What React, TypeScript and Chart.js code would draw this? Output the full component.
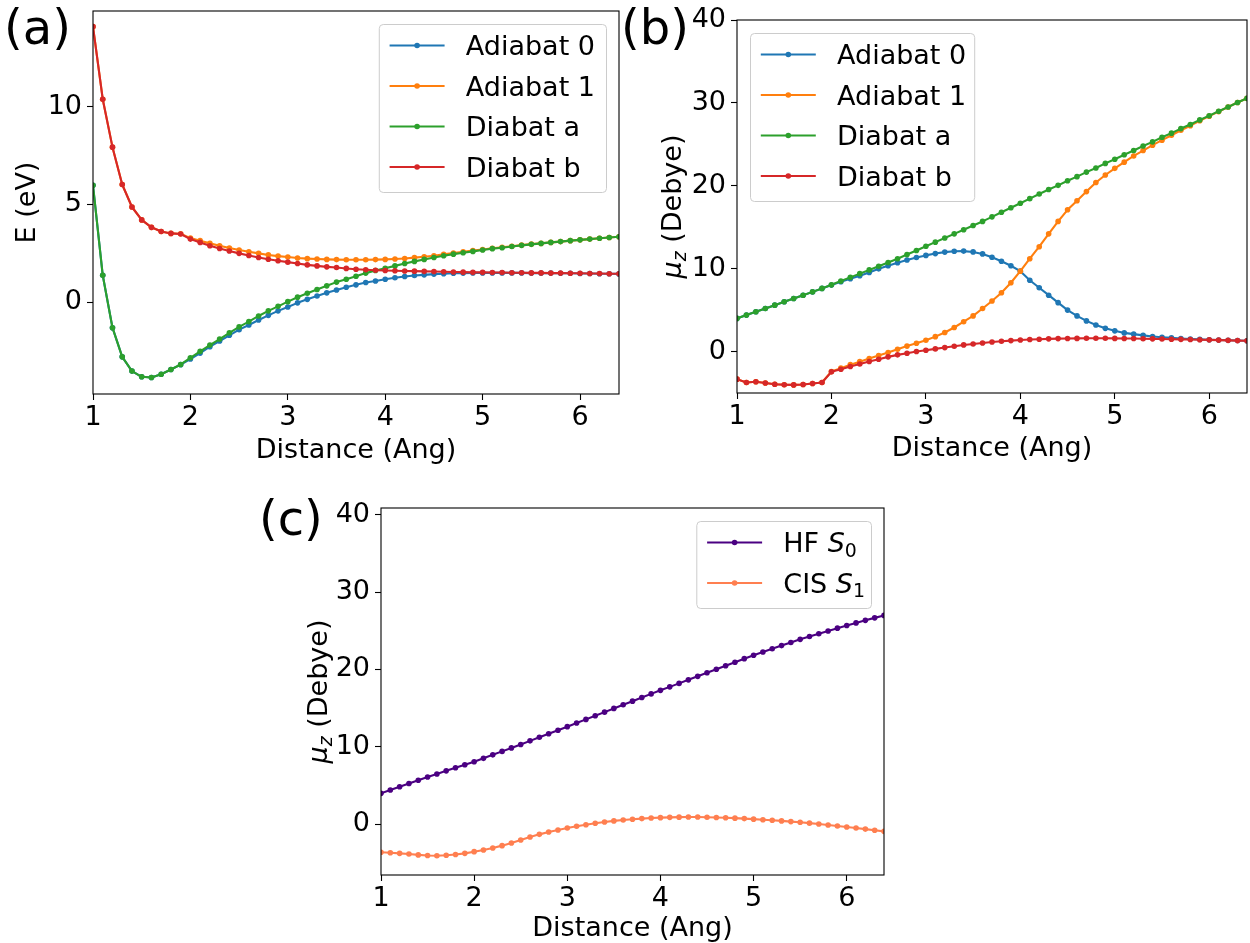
import React, { useEffect, useRef } from "react";
import { Chart, registerables } from "chart.js";

Chart.register(...registerables);

const FONT = "'DejaVu Sans', 'Liberation Sans', sans-serif";
const FS = 27;

// ---------------- data ----------------
const distance = [
  1.0, 1.1, 1.2, 1.3, 1.4, 1.5, 1.6, 1.7, 1.8, 1.9,
  2.0, 2.1, 2.2, 2.3, 2.4, 2.5, 2.6, 2.7, 2.8, 2.9,
  3.0, 3.1, 3.2, 3.3, 3.4, 3.5, 3.6, 3.7, 3.8, 3.9,
  4.0, 4.1, 4.2, 4.3, 4.4, 4.5, 4.6, 4.7, 4.8, 4.9,
  5.0, 5.1, 5.2, 5.3, 5.4, 5.5, 5.6, 5.7, 5.8, 5.9,
  6.0, 6.1, 6.2, 6.3, 6.4,
];

// (a) energies, eV
const energyAdiabat0 = [
  5.98, 1.38, -1.30, -2.79, -3.52, -3.81, -3.85, -3.68, -3.44, -3.19,
  -2.90, -2.60, -2.27, -1.98, -1.69, -1.40, -1.16, -0.91, -0.67, -0.44,
  -0.24, -0.03, 0.15, 0.32, 0.48, 0.63, 0.77, 0.89, 1.01, 1.09,
  1.18, 1.25, 1.32, 1.37, 1.40, 1.44, 1.46, 1.48, 1.49, 1.50,
  1.50, 1.50, 1.50, 1.50, 1.50, 1.49, 1.49, 1.49, 1.48, 1.48,
  1.47, 1.47, 1.46, 1.46, 1.45,
];
const energyAdiabat1 = [
  14.09, 10.38, 7.93, 6.02, 4.87, 4.21, 3.83, 3.62, 3.52, 3.50,
  3.28, 3.15, 3.01, 2.89, 2.77, 2.67, 2.58, 2.50, 2.42, 2.36,
  2.31, 2.26, 2.23, 2.21, 2.19, 2.18, 2.17, 2.17, 2.17, 2.18,
  2.19, 2.21, 2.24, 2.28, 2.33, 2.38, 2.45, 2.52, 2.58, 2.64,
  2.70, 2.76, 2.81, 2.86, 2.92, 2.97, 3.01, 3.06, 3.10, 3.15,
  3.19, 3.23, 3.27, 3.31, 3.35,
];
const energyDiabatA = [
  5.98, 1.38, -1.30, -2.79, -3.52, -3.81, -3.85, -3.68, -3.44, -3.18,
  -2.84, -2.51, -2.19, -1.88, -1.56, -1.26, -0.99, -0.70, -0.44, -0.21,
  0.03, 0.26, 0.46, 0.65, 0.84, 1.03, 1.18, 1.33, 1.49, 1.62,
  1.74, 1.86, 1.98, 2.09, 2.19, 2.29, 2.38, 2.46, 2.53, 2.60,
  2.67, 2.74, 2.79, 2.85, 2.91, 2.96, 3.01, 3.06, 3.10, 3.15,
  3.19, 3.23, 3.27, 3.31, 3.35,
];
const energyDiabatB = [
  14.09, 10.38, 7.93, 6.02, 4.87, 4.21, 3.83, 3.62, 3.52, 3.49,
  3.23, 3.06, 2.89, 2.75, 2.62, 2.50, 2.39, 2.29, 2.20, 2.12,
  2.05, 1.98, 1.91, 1.86, 1.81, 1.78, 1.73, 1.69, 1.66, 1.64,
  1.62, 1.61, 1.60, 1.59, 1.58, 1.57, 1.56, 1.55, 1.54, 1.53,
  1.53, 1.52, 1.52, 1.51, 1.51, 1.50, 1.50, 1.49, 1.49, 1.48,
  1.48, 1.47, 1.47, 1.46, 1.46,
];

// (b) dipoles, Debye
const dipoleAdiabat0 = [
  4.00, 4.40, 4.80, 5.20, 5.60, 6.00, 6.40, 6.80, 7.20, 7.62,
  8.02, 8.42, 8.78, 9.15, 9.55, 9.98, 10.35, 10.72, 11.05, 11.35,
  11.60, 11.82, 12.00, 12.10, 12.12, 12.02, 11.78, 11.38, 10.90, 10.35,
  9.70, 8.60, 7.70, 6.80, 5.90, 5.00, 4.30, 3.70, 3.20, 2.80,
  2.50, 2.25, 2.10, 1.95, 1.82, 1.73, 1.65, 1.58, 1.52, 1.47,
  1.43, 1.40, 1.37, 1.33, 1.30,
];
const dipoleAdiabat1 = [
  -3.33, -3.73, -3.65, -3.80, -3.94, -4.00, -4.02, -3.98, -3.86, -3.73,
  -2.40, -2.00, -1.58, -1.22, -0.85, -0.48, -0.12, 0.28, 0.66, 1.00,
  1.37, 1.80, 2.30, 2.90, 3.60, 4.30, 5.20, 6.10, 7.10, 8.30,
  9.70, 11.20, 12.65, 14.20, 15.70, 17.10, 18.20, 19.30, 20.40, 21.30,
  22.10, 22.85, 23.60, 24.25, 24.90, 25.50, 26.10, 26.70, 27.25, 27.85,
  28.40, 28.95, 29.50, 30.05, 30.55,
];
const dipoleDiabatA = [
  4.00, 4.40, 4.80, 5.20, 5.60, 6.00, 6.40, 6.80, 7.20, 7.62,
  8.05, 8.50, 8.95, 9.40, 9.85, 10.30, 10.75, 11.20, 11.70, 12.20,
  12.70, 13.20, 13.70, 14.20, 14.70, 15.20, 15.70, 16.25, 16.80, 17.35,
  17.90, 18.45, 19.00, 19.55, 20.05, 20.60, 21.10, 21.65, 22.15, 22.70,
  23.20, 23.75, 24.25, 24.80, 25.30, 25.85, 26.35, 26.90, 27.40, 27.95,
  28.45, 29.00, 29.50, 30.05, 30.55,
];
const dipoleDiabatB = [
  -3.33, -3.73, -3.65, -3.80, -3.94, -4.00, -4.02, -3.98, -3.86, -3.73,
  -2.45, -2.13, -1.80, -1.50, -1.20, -0.92, -0.64, -0.40, -0.20, 0.00,
  0.16, 0.32, 0.48, 0.64, 0.80, 0.92, 1.04, 1.16, 1.24, 1.32,
  1.40, 1.45, 1.49, 1.53, 1.56, 1.58, 1.59, 1.60, 1.60, 1.60,
  1.59, 1.58, 1.57, 1.55, 1.53, 1.51, 1.49, 1.47, 1.45, 1.43,
  1.41, 1.38, 1.35, 1.32, 1.30,
];

// (c) dipoles, Debye
const dipoleHfS0 = [
  3.97, 4.40, 4.82, 5.24, 5.66, 6.08, 6.48, 6.88, 7.28, 7.67,
  8.06, 8.50, 8.95, 9.40, 9.85, 10.30, 10.76, 11.22, 11.68, 12.14,
  12.60, 13.07, 13.54, 14.01, 14.48, 14.96, 15.43, 15.90, 16.37, 16.84,
  17.30, 17.75, 18.20, 18.66, 19.11, 19.57, 20.03, 20.48, 20.94, 21.40,
  21.85, 22.27, 22.68, 23.09, 23.50, 23.90, 24.27, 24.63, 24.99, 25.35,
  25.70, 26.03, 26.36, 26.68, 27.00,
];
const dipoleCisS1 = [
  -3.66, -3.72, -3.80, -3.88, -4.00, -4.08, -4.10, -4.04, -3.94, -3.80,
  -3.58, -3.36, -3.10, -2.80, -2.46, -2.07, -1.68, -1.34, -1.03, -0.78,
  -0.52, -0.30, -0.09, 0.09, 0.26, 0.40, 0.52, 0.62, 0.70, 0.77,
  0.82, 0.86, 0.89, 0.90, 0.90, 0.88, 0.85, 0.81, 0.76, 0.70,
  0.63, 0.56, 0.48, 0.40, 0.31, 0.22, 0.11, 0.00, -0.12, -0.25,
  -0.38, -0.52, -0.66, -0.80, -0.95,
];

const xTicks = [1, 2, 3, 4, 5, 6];
const energyTicks = [0, 5, 10];
const dipoleTicks = [0, 10, 20, 30, 40];

// ---------------- helpers ----------------
type Part = { text: string; italic?: boolean; sub?: boolean };

function partFont(p: Part, size: number) {
  const s = p.sub ? size * 0.7 : size;
  return `${p.italic ? "italic " : ""}${s}px ${FONT}`;
}
function measureParts(ctx: CanvasRenderingContext2D, parts: Part[], size: number) {
  let w = 0;
  for (const p of parts) {
    ctx.font = partFont(p, size);
    w += ctx.measureText(p.text).width;
  }
  return w;
}
function drawParts(ctx: CanvasRenderingContext2D, parts: Part[], x: number, baseline: number, size: number) {
  ctx.textBaseline = "alphabetic";
  ctx.textAlign = "left";
  let cx = x;
  for (const p of parts) {
    ctx.font = partFont(p, size);
    ctx.fillText(p.text, cx, p.sub ? baseline + size * 0.17 : baseline);
    cx += ctx.measureText(p.text).width;
  }
}
function roundRect(ctx: CanvasRenderingContext2D, x: number, y: number, w: number, h: number, r: number) {
  ctx.beginPath();
  ctx.moveTo(x + r, y);
  ctx.lineTo(x + w - r, y);
  ctx.arcTo(x + w, y, x + w, y + r, r);
  ctx.lineTo(x + w, y + h - r);
  ctx.arcTo(x + w, y + h, x + w - r, y + h, r);
  ctx.lineTo(x + r, y + h);
  ctx.arcTo(x, y + h, x, y + h - r, r);
  ctx.lineTo(x, y + r);
  ctx.arcTo(x, y, x + r, y, r);
  ctx.closePath();
}

type Series = { label: string; parts: Part[]; values: number[]; color: string };
type PanelSpec = {
  left: number; top: number; width: number; height: number;
  pad: { left: number; top: number; right: number; bottom: number };
  yAxisWidth: number; xAxisHeight: number;
  yMin: number; yMax: number; yTicks: number[];
  yTitle: string | null; yTitleParts: Part[] | null; yTitleCenterX: number;
  xTitlePad: number;
  legendAlign: "left" | "right";
  legendExtra: number;
  series: Series[];
};

const TAB_BLUE = "#1f77b4";
const TAB_ORANGE = "#ff7f0e";
const TAB_GREEN = "#2ca02c";
const TAB_RED = "#d62728";

const muTitle: Part[] = [
  { text: "\u03bc", italic: true },
  { text: "z", italic: true, sub: true },
  { text: " (Debye)" },
];

const panels: PanelSpec[] = [
  {
    left: 0, top: 0, width: 625, height: 470,
    pad: { left: 0, top: 11, right: 6, bottom: 0 },
    yAxisWidth: 93, xAxisHeight: 76,
    yMin: -4.69, yMax: 14.89, yTicks: energyTicks,
    yTitle: "E (eV)", yTitleParts: null, yTitleCenterX: 28,
    xTitlePad: 5.5,
    legendAlign: "right",
    legendExtra: 11,
    series: [
      { label: "Adiabat 0", parts: [{ text: "Adiabat 0" }], values: energyAdiabat0, color: TAB_BLUE },
      { label: "Adiabat 1", parts: [{ text: "Adiabat 1" }], values: energyAdiabat1, color: TAB_ORANGE },
      { label: "Diabat a", parts: [{ text: "Diabat a" }], values: energyDiabatA, color: TAB_GREEN },
      { label: "Diabat b", parts: [{ text: "Diabat b" }], values: energyDiabatB, color: TAB_RED },
    ],
  },
  {
    left: 625, top: 0, width: 625, height: 470,
    pad: { left: 0, top: 20, right: 3, bottom: 0 },
    yAxisWidth: 112, xAxisHeight: 77,
    yMin: -5, yMax: 40, yTicks: dipoleTicks,
    yTitle: null, yTitleParts: muTitle, yTitleCenterX: 48,
    xTitlePad: 7.5,
    legendAlign: "left",
    legendExtra: 8,
    series: [
      { label: "Adiabat 0", parts: [{ text: "Adiabat 0" }], values: dipoleAdiabat0, color: TAB_BLUE },
      { label: "Adiabat 1", parts: [{ text: "Adiabat 1" }], values: dipoleAdiabat1, color: TAB_ORANGE },
      { label: "Diabat a", parts: [{ text: "Diabat a" }], values: dipoleDiabatA, color: TAB_GREEN },
      { label: "Diabat b", parts: [{ text: "Diabat b" }], values: dipoleDiabatB, color: TAB_RED },
    ],
  },
  {
    left: 250, top: 480, width: 650, height: 463,
    pad: { left: 0, top: 28, right: 16, bottom: 0 },
    yAxisWidth: 131, xAxisHeight: 68,
    yMin: -6.6, yMax: 40.9, yTicks: dipoleTicks,
    yTitle: null, yTitleParts: muTitle, yTitleCenterX: 69,
    xTitlePad: 0.5,
    legendAlign: "right",
    legendExtra: 6,
    series: [
      { label: "HF S0", parts: [{ text: "HF " }, { text: "S", italic: true }, { text: "0", sub: true }], values: dipoleHfS0, color: "#4b0082" },
      { label: "CIS S1", parts: [{ text: "CIS " }, { text: "S", italic: true }, { text: "1", sub: true }], values: dipoleCisS1, color: "#ff7f50" },
    ],
  },
];

function zeroPad(s: any) {
  s.paddingLeft = 0;
  s.paddingRight = 0;
  s.paddingTop = 0;
  s.paddingBottom = 0;
}

function makeConfig(spec: PanelSpec): any {
  const n = spec.series.length;
  const decor = {
    id: "decor",
    afterDatasetsDraw(chart: any) {
      const { ctx, chartArea: a } = chart;
      ctx.save();
      ctx.strokeStyle = "#000";
      ctx.lineWidth = 1.1;
      ctx.strokeRect(a.left, a.top, a.right - a.left, a.bottom - a.top);
      ctx.restore();
    },
    afterDraw(chart: any) {
      const { ctx, chartArea: a } = chart;
      ctx.save();
      // legend
      const widths = spec.series.map((s) => measureParts(ctx, s.parts, FS));
      const textW = Math.max(...widths);
      const w = 87 + textW + spec.legendExtra;
      const h = n * 40.5 + 6;
      const x0 = spec.legendAlign === "right" ? a.right - 13 - w : a.left + 13;
      const y0 = a.top + 13;
      roundRect(ctx, x0 + 0.5, y0 + 0.5, w, h, 4);
      ctx.fillStyle = "rgba(255,255,255,0.8)";
      ctx.fill();
      ctx.strokeStyle = "#cccccc";
      ctx.lineWidth = 1;
      ctx.stroke();
      spec.series.forEach((s, i) => {
        const cy = y0 + 21.5 + i * 40.5;
        ctx.strokeStyle = s.color;
        ctx.lineWidth = 2.1;
        ctx.beginPath();
        ctx.moveTo(x0 + 10.8, cy);
        ctx.lineTo(x0 + 10.8 + 55, cy);
        ctx.stroke();
        ctx.fillStyle = s.color;
        ctx.beginPath();
        ctx.arc(x0 + 10.8 + 27.5, cy, 2.8, 0, Math.PI * 2);
        ctx.fill();
        ctx.fillStyle = "#000";
        drawParts(ctx, s.parts, x0 + 87, cy + 0.365 * FS, FS);
      });
      // custom y title
      if (spec.yTitleParts) {
        const tw = measureParts(ctx, spec.yTitleParts, FS);
        const cy = (a.top + a.bottom) / 2;
        ctx.translate(spec.yTitleCenterX + 0.3 * FS, cy);
        ctx.rotate(-Math.PI / 2);
        ctx.fillStyle = "#000";
        drawParts(ctx, spec.yTitleParts, -tw / 2, 0, FS);
      }
      ctx.restore();
    },
  };

  return {
    type: "line",
    data: {
      datasets: spec.series.map((s, i) => ({
        label: s.label,
        data: distance.map((x, j) => ({ x, y: s.values[j] })),
        borderColor: s.color,
        backgroundColor: s.color,
        pointBackgroundColor: s.color,
        pointBorderColor: s.color,
        borderWidth: 2.1,
        pointRadius: 2.8,
        pointHoverRadius: 2.8,
        pointBorderWidth: 0,
        borderJoinStyle: "round",
        tension: 0,
        fill: false,
        clip: 0,
        order: n - i,
      })),
    },
    options: {
      animation: false,
      responsive: false,
      maintainAspectRatio: false,
      devicePixelRatio: 1,
      events: [],
      layout: { padding: spec.pad },
      plugins: {
        legend: { display: false },
        tooltip: { enabled: false },
        title: { display: false },
      },
      scales: {
        x: {
          type: "linear",
          min: 1,
          max: 6.4,
          afterBuildTicks: (ax: any) => {
            ax.ticks = xTicks.map((v) => ({ value: v }));
          },
          afterFit: (s: any) => {
            s.height = spec.xAxisHeight;
            zeroPad(s);
          },
          border: { display: false },
          grid: {
            display: true,
            drawOnChartArea: false,
            drawTicks: true,
            tickLength: 6,
            tickWidth: 1.1,
            tickColor: "#000",
            color: "#000",
          },
          ticks: {
            autoSkip: false,
            maxRotation: 0,
            padding: 4,
            color: "#000",
            font: { family: FONT, size: FS, lineHeight: 1 },
          },
          title: {
            display: true,
            text: "Distance (Ang)",
            color: "#000",
            font: { family: FONT, size: FS, lineHeight: 1 },
            padding: { top: 0, bottom: spec.xTitlePad },
          },
        },
        y: {
          type: "linear",
          min: spec.yMin,
          max: spec.yMax,
          afterBuildTicks: (ax: any) => {
            ax.ticks = spec.yTicks.map((v) => ({ value: v }));
          },
          afterFit: (s: any) => {
            s.width = spec.yAxisWidth;
            zeroPad(s);
          },
          border: { display: false },
          grid: {
            display: true,
            drawOnChartArea: false,
            drawTicks: true,
            tickLength: 6,
            tickWidth: 1.1,
            tickColor: "#000",
            color: "#000",
          },
          ticks: {
            autoSkip: false,
            padding: 5,
            color: "#000",
            font: { family: FONT, size: FS, lineHeight: 1 },
          },
          title: {
            display: !!spec.yTitle,
            text: spec.yTitle || "",
            color: "#000",
            font: { family: FONT, size: FS, lineHeight: 1 },
            padding: { top: spec.yTitleCenterX - FS / 2, bottom: 0 },
          },
        },
      },
    },
    plugins: [decor],
  };
}

function Panel({ spec }: { spec: PanelSpec }) {
  const ref = useRef<HTMLCanvasElement | null>(null);
  useEffect(() => {
    if (!ref.current) return;
    const chart = new Chart(ref.current, makeConfig(spec));
    return () => chart.destroy();
  }, [spec]);
  return (
    <canvas
      ref={ref}
      width={spec.width}
      height={spec.height}
      style={{ position: "absolute", left: spec.left, top: spec.top, width: spec.width, height: spec.height }}
    />
  );
}

const panelLabels = [
  { text: "(a)", left: 4, top: 3 },
  { text: "(b)", left: 621, top: 3 },
  { text: "(c)", left: 259, top: 494 },
];

export default function App() {
  return (
    <div style={{ position: "absolute", left: 0, top: 0, width: 1250, height: 943, background: "#fff", overflow: "hidden" }}>
      {panels.map((p, i) => (
        <Panel key={i} spec={p} />
      ))}
      {panelLabels.map((l) => (
        <div
          key={l.text}
          style={{
            position: "absolute",
            left: l.left,
            top: l.top,
            fontFamily: FONT,
            fontSize: 48,
            lineHeight: "48px",
            color: "#000",
            whiteSpace: "nowrap",
          }}
        >
          {l.text}
        </div>
      ))}
    </div>
  );
}
